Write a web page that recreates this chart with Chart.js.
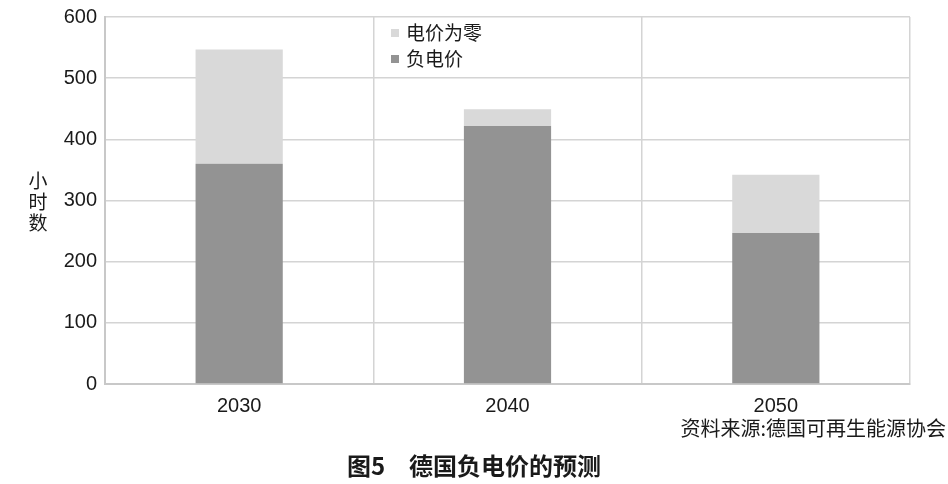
<!DOCTYPE html>
<html>
<head>
<meta charset="utf-8">
<script src="https://cdn.jsdelivr.net/npm/chart.js@4"></script>
<style>
  html, body { margin: 0; padding: 0; background: #fff; }
  #wrap { position: relative; width: 948px; height: 484px; }
</style>
</head>
<body>
<div id="wrap"><canvas id="myChart" width="948" height="484"></canvas></div>
<script>
var years = ['2030', '2040', '2050'];
var negativePrice = [360, 422, 247];   // 负电价
var zeroPrice = [187, 27, 95];         // 电价为零 (stacked on top)
var yTicks = [0, 100, 200, 300, 400, 500, 600];

var fontCJK = '"Noto Sans CJK SC", "Noto Sans", sans-serif';

// legend, axis title, source and caption drawn on the canvas
var extras = {
  id: 'extras',
  afterDraw: function(chart) {
    var ctx = chart.ctx;
    var area = chart.chartArea;
    ctx.save();
    // legend
    var lx = area.left + 286, ly = area.top + 16;
    var items = [['电价为零', '#d9d9d9'], ['负电价', '#939393']];
    ctx.font = '19px ' + fontCJK;
    ctx.textBaseline = 'middle';
    ctx.textAlign = 'left';
    items.forEach(function(it, i) {
      var y = ly + i * 26;
      ctx.fillStyle = it[1];
      ctx.fillRect(lx, y - 4, 8, 8);
      ctx.fillStyle = '#1a1a1a';
      ctx.fillText(it[0], lx + 15, y);
    });
    // y-axis title, stacked characters
    ctx.font = '19px ' + fontCJK;
    ctx.textAlign = 'center';
    ['小', '时', '数'].forEach(function(c, i) {
      ctx.fillText(c, 38, 181 + i * 21);
    });
    // source
    ctx.font = '20px ' + fontCJK;
    ctx.textAlign = 'right';
    ctx.fillText('资料来源:德国可再生能源协会', 946, 428);
    // caption
    ctx.font = 'bold 24px ' + fontCJK;
    ctx.textAlign = 'center';
    ctx.fillText('图5\u3000德国负电价的预测', 474, 466);
    ctx.restore();
  }
};

new Chart(document.getElementById('myChart').getContext('2d'), {
  type: 'bar',
  data: {
    labels: years,
    datasets: [{
      label: '负电价',
      data: negativePrice,
      backgroundColor: '#939393',
      categoryPercentage: 1,
      barPercentage: 0.325
    }, {
      label: '电价为零',
      data: zeroPrice,
      backgroundColor: '#d9d9d9',
      categoryPercentage: 1,
      barPercentage: 0.325
    }]
  },
  options: {
    responsive: false,
    animation: false,
    layout: { padding: { top: 17, right: 38, left: 0, bottom: 0 } },
    plugins: {
      legend: { display: false },
      tooltip: { enabled: false }
    },
    scales: {
      x: {
        stacked: true,
        afterFit: function(scale) { scale.height = 100; },
        grid: { color: '#d4d4d4', lineWidth: 1.5, drawTicks: false },
        border: { color: '#c8c8c8', width: 2 },
        ticks: { color: '#1a1a1a', padding: 10, font: { size: 20, family: 'Liberation Sans, Arial, sans-serif' } }
      },
      y: {
        stacked: true,
        min: 0,
        max: 600,
        afterFit: function(scale) {
          scale.width = 105;
          scale.paddingTop = 0;
          scale.paddingBottom = 0;
        },
        afterBuildTicks: function(scale) {
          scale.ticks = yTicks.map(function(v) { return { value: v }; });
        },
        grid: { color: '#d4d4d4', lineWidth: 1.5, drawTicks: false },
        border: { color: '#c8c8c8', width: 2 },
        ticks: { color: '#1a1a1a', padding: 8, font: { size: 20, family: 'Liberation Sans, Arial, sans-serif' } }
      }
    }
  },
  plugins: [extras]
});
</script>
</body>
</html>
